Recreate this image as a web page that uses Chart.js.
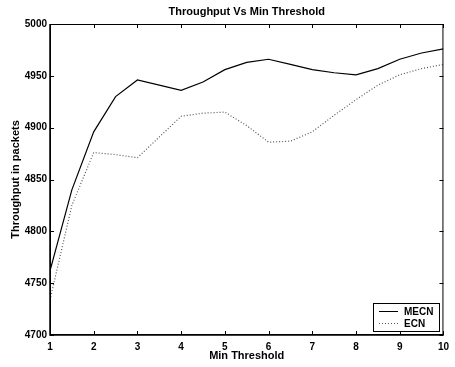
<!DOCTYPE html>
<html>
<head>
<meta charset="utf-8">
<script src="https://cdn.jsdelivr.net/npm/chart.js@4"></script>
<style>
  html, body { margin: 0; padding: 0; background: #fff; }
  #wrap { width: 455px; height: 367px; }
</style>
</head>
<body>
<div id="wrap"><canvas id="chart" width="455" height="367"></canvas></div>
<script>
const thresholds = [1, 1.5, 2, 2.5, 3, 3.5, 4, 4.5, 5, 5.5, 6, 6.5, 7, 7.5, 8, 8.5, 9, 9.5, 10];
const mecn = [4762, 4840, 4896, 4930, 4946, 4941, 4936, 4944, 4956, 4963, 4966, 4961, 4956, 4953, 4951, 4957, 4966, 4972, 4976];
const ecn = [4734, 4825, 4876, 4874, 4871, 4891, 4911, 4914, 4915, 4902, 4886, 4887, 4896, 4912, 4927, 4941, 4951, 4957, 4961];

const FONT = "'Liberation Sans', Arial, sans-serif";

function pts(arr) {
  return thresholds.map((t, i) => ({ x: t, y: arr[i] }));
}

// box, inward ticks, title, axis titles and legend (matlab style)
const frame = {
  id: "frame",
  afterDraw(chart) {
    const ctx = chart.ctx;
    const a = chart.chartArea;
    const xs = chart.scales.x, ys = chart.scales.y;
    ctx.save();
    ctx.strokeStyle = "#000";
    ctx.lineWidth = 1;
    ctx.strokeRect(a.left + 0.5, a.top + 0.5, a.right - a.left - 1, a.bottom - a.top - 1);
    ctx.lineWidth = 1.5;
    ctx.beginPath();
    ctx.moveTo(a.left, a.top); ctx.lineTo(a.left, a.bottom); ctx.lineTo(a.right, a.bottom);
    ctx.stroke();
    ctx.lineWidth = 1;
    ctx.beginPath();
    xs.ticks.forEach(t => {
      const px = Math.round(xs.getPixelForValue(t.value)) + 0.5;
      ctx.moveTo(px, a.bottom); ctx.lineTo(px, a.bottom - 4);
      ctx.moveTo(px, a.top); ctx.lineTo(px, a.top + 4);
    });
    ys.ticks.forEach(t => {
      const py = Math.round(ys.getPixelForValue(t.value)) + 0.5;
      ctx.moveTo(a.left, py); ctx.lineTo(a.left + 4, py);
      ctx.moveTo(a.right, py); ctx.lineTo(a.right - 4, py);
    });
    ctx.stroke();

    ctx.fillStyle = "#000";
    ctx.font = "bold 11px " + FONT;
    ctx.textAlign = "center";
    ctx.textBaseline = "middle";
    ctx.fillText("Throughput Vs Min Threshold", (a.left + a.right) / 2, 12);
    ctx.fillText("Min Threshold", (a.left + a.right) / 2, 356);
    ctx.save();
    ctx.translate(16, (a.top + a.bottom) / 2);
    ctx.rotate(-Math.PI / 2);
    ctx.fillText("Throughput in packets", 0, 0);
    ctx.restore();

    // legend box
    const lx = 373, ly = 303, lw = 66, lh = 28;
    ctx.fillStyle = "#fff";
    ctx.fillRect(lx, ly, lw, lh);
    ctx.strokeRect(lx + 0.5, ly + 0.5, lw, lh);
    ctx.textAlign = "left";
    chart.data.datasets.forEach((ds, i) => {
      const y = ly + 8 + i * 12;
      ctx.strokeStyle = ds.borderColor;
      ctx.setLineDash(ds.borderDash || []);
      ctx.beginPath();
      ctx.moveTo(lx + 6, y + 0.5); ctx.lineTo(lx + 25, y + 0.5);
      ctx.stroke();
      ctx.setLineDash([]);
      ctx.fillStyle = "#000";
      ctx.font = "bold 10px " + FONT;
      ctx.fillText(ds.label, lx + 31, y + 1);
    });
    ctx.restore();
  }
};

new Chart(document.getElementById("chart"), {
  type: "line",
  data: {
    datasets: [
      { label: "MECN", data: pts(mecn), borderColor: "#000", borderWidth: 1.2, pointRadius: 0, tension: 0 },
      { label: "ECN", data: pts(ecn), borderColor: "#555", borderWidth: 1.2, borderDash: [1, 2], pointRadius: 0, tension: 0 }
    ]
  },
  options: {
    responsive: false,
    animation: false,
    layout: { padding: { top: 24, right: 10, left: 0, bottom: 0 } },
    plugins: { legend: { display: false }, tooltip: { enabled: false } },
    scales: {
      x: {
        type: "linear", min: 1, max: 10,
        grid: { display: false, drawTicks: false }, border: { display: false },
        ticks: { stepSize: 1, padding: 6, color: "#000", font: { family: FONT, size: 10, weight: "bold" }, maxRotation: 0 },
        afterFit(s) { s.height = 32; }
      },
      y: {
        min: 4700, max: 5000,
        grid: { display: false, drawTicks: false }, border: { display: false },
        ticks: { stepSize: 50, padding: 3, color: "#000", font: { family: FONT, size: 10, weight: "bold" }, callback: v => String(v) },
        afterFit(s) { s.width = 50; }
      }
    }
  },
  plugins: [frame]
});
</script>
</body>
</html>
